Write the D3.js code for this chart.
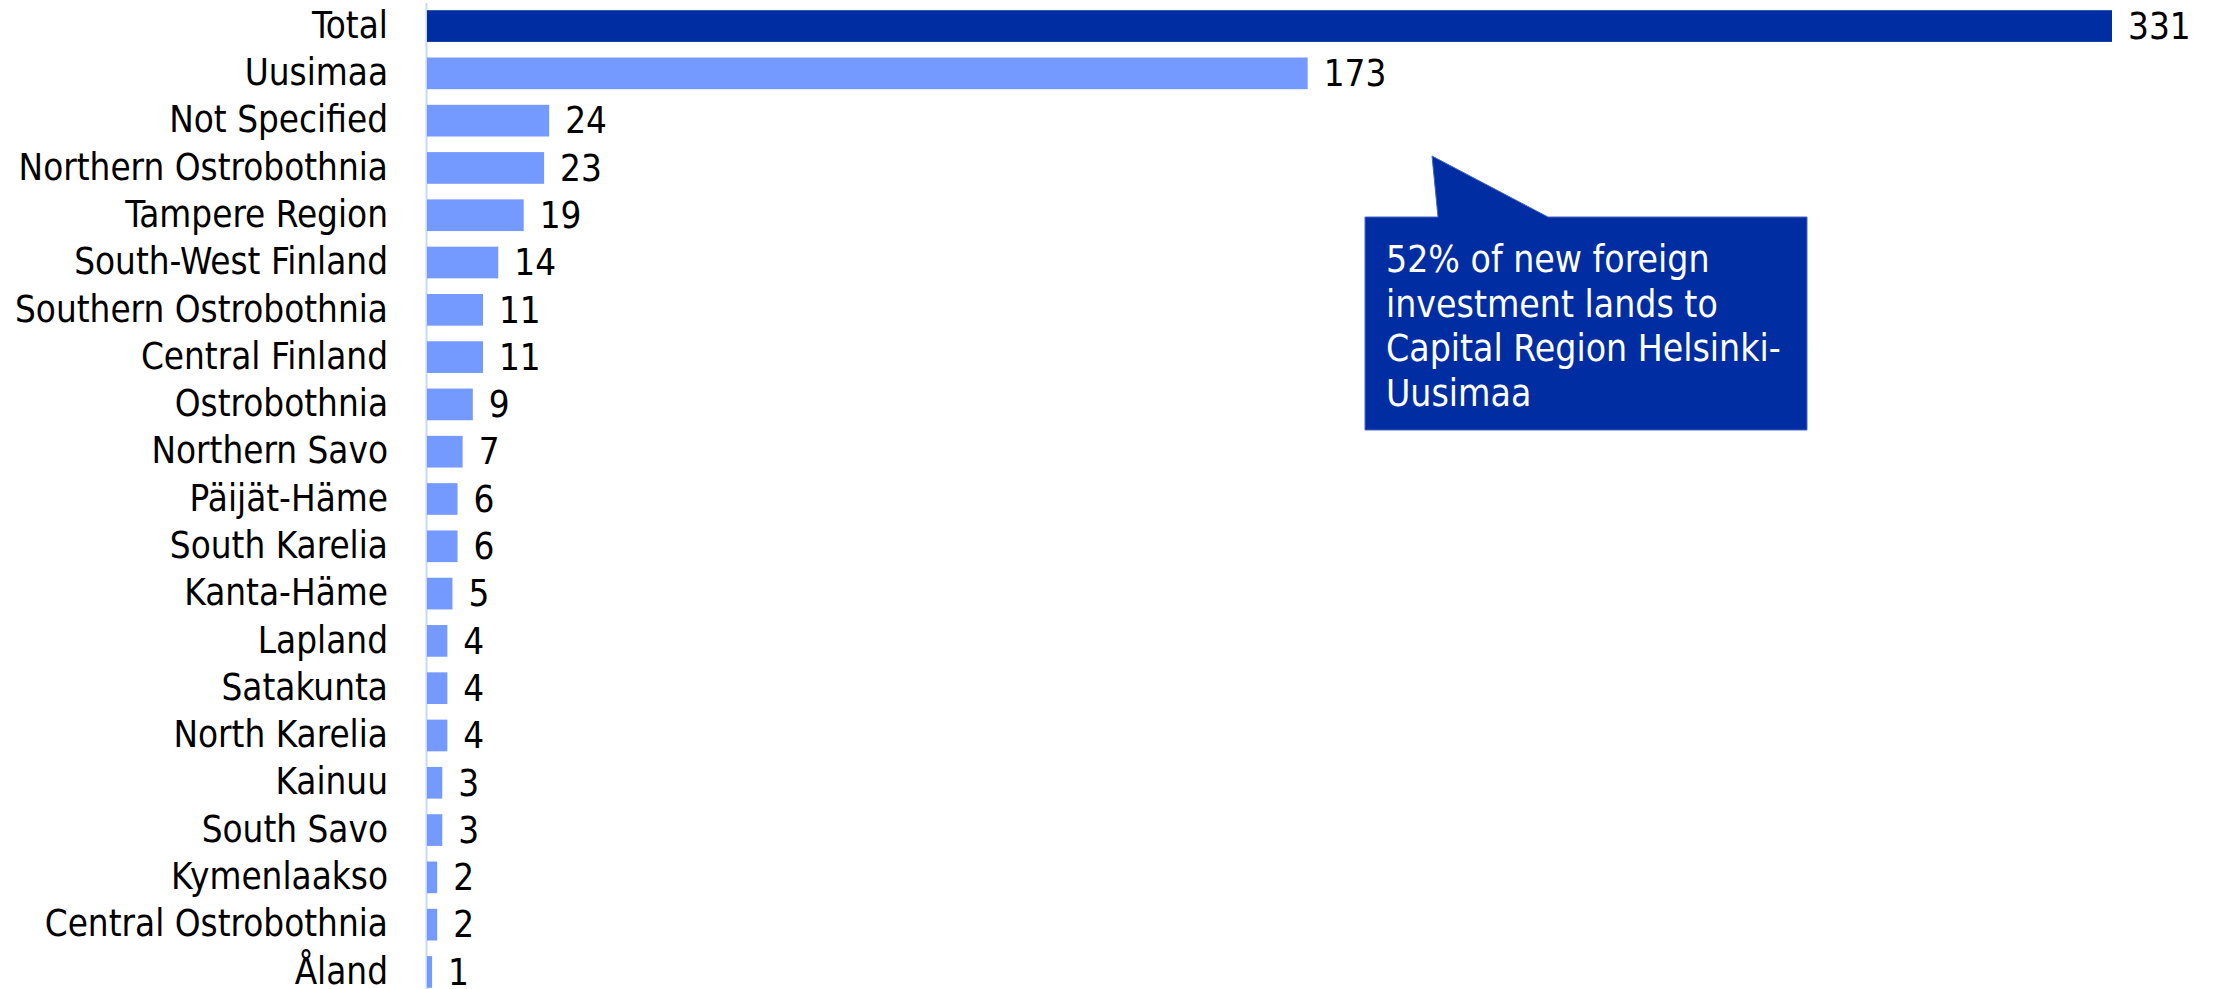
<!DOCTYPE html>
<html>
<head>
<meta charset="utf-8">
<script src="https://cdn.jsdelivr.net/npm/d3@7"></script>
<style>
  body { margin: 0; background: #fff; }
  text { font-family: "DejaVu Sans Condensed", "DejaVu Sans", sans-serif; font-stretch: condensed; }
</style>
</head>
<body>
<div id="chart"></div>
<script>
// --- Data ---
const regions = ["Total", "Uusimaa", "Not Specified", "Northern Ostrobothnia", "Tampere Region",
  "South-West Finland", "Southern Ostrobothnia", "Central Finland", "Ostrobothnia", "Northern Savo",
  "Päijät-Häme", "South Karelia", "Kanta-Häme", "Lapland", "Satakunta", "North Karelia",
  "Kainuu", "South Savo", "Kymenlaakso", "Central Ostrobothnia", "Åland"];
const projects = [331, 173, 24, 23, 19, 14, 11, 11, 9, 7, 6, 6, 5, 4, 4, 4, 3, 3, 2, 2, 1];
const calloutLines = ["52% of new foreign", "investment lands to", "Capital Region Helsinki-", "Uusimaa"];

const width = 2214, height = 989;
const darkBlue = "#002ea2";
const lightBlue = "#759aff";
const fontFam = "DejaVu Sans Condensed, DejaVu Sans, sans-serif";

const svg = d3.select("#chart").append("svg")
    .attr("width", width)
    .attr("height", height);

// scales
const x = d3.scaleLinear()
    .domain([0, 331])
    .range([427, 2112]);

const y = d3.scaleBand()
    .domain(regions)
    .range([2.4, 995.6])
    .paddingInner(0.33)
    .paddingOuter(0.165);

// category axis (labels + light vertical line)
const axis = svg.append("g")
    .attr("transform", "translate(426,0)")
    .call(d3.axisLeft(y).tickSize(0).tickPadding(38));
axis.select(".domain")
    .attr("stroke", "#c8d7fd")
    .attr("stroke-width", 2);
axis.selectAll(".tick text")
    .attr("font-family", fontFam)
    .attr("font-size", 36.5)
    .attr("fill", "#000");

// bars
svg.selectAll(".bar")
    .data(regions)
    .enter().append("rect")
    .attr("class", "bar")
    .attr("x", x(0))
    .attr("y", d => y(d))
    .attr("width", (d, i) => x(projects[i]) - x(0))
    .attr("height", y.bandwidth())
    .attr("fill", d => d === "Total" ? darkBlue : lightBlue);

// value labels
svg.selectAll(".val")
    .data(regions)
    .enter().append("text")
    .attr("class", "val")
    .attr("x", (d, i) => x(projects[i]) + 16)
    .attr("y", d => y(d) + y.bandwidth() / 2)
    .attr("dy", "0.35em")
    .attr("font-family", fontFam)
    .attr("font-size", 36.5)
    .attr("fill", "#000")
    .text((d, i) => projects[i]);

// callout box with pointer
const box = {left: 1365, top: 217, right: 1807, bottom: 430};
const callout = svg.append("g");
callout.append("path")
    .attr("d", `M${box.left},${box.top} L1438,${box.top} L1432,156 L1548,${box.top} L${box.right},${box.top}
               L${box.right},${box.bottom} L${box.left},${box.bottom} Z`)
    .attr("fill", darkBlue)
    .attr("stroke", "#4466c8")
    .attr("stroke-width", 1);

callout.selectAll("text")
    .data(calloutLines)
    .enter().append("text")
    .attr("x", 1386)
    .attr("y", (d, i) => 272 + i * 44.5)
    .attr("font-family", fontFam)
    .attr("font-size", 37)
    .attr("fill", "#fff")
    .text(d => d);
</script>
</body>
</html>
